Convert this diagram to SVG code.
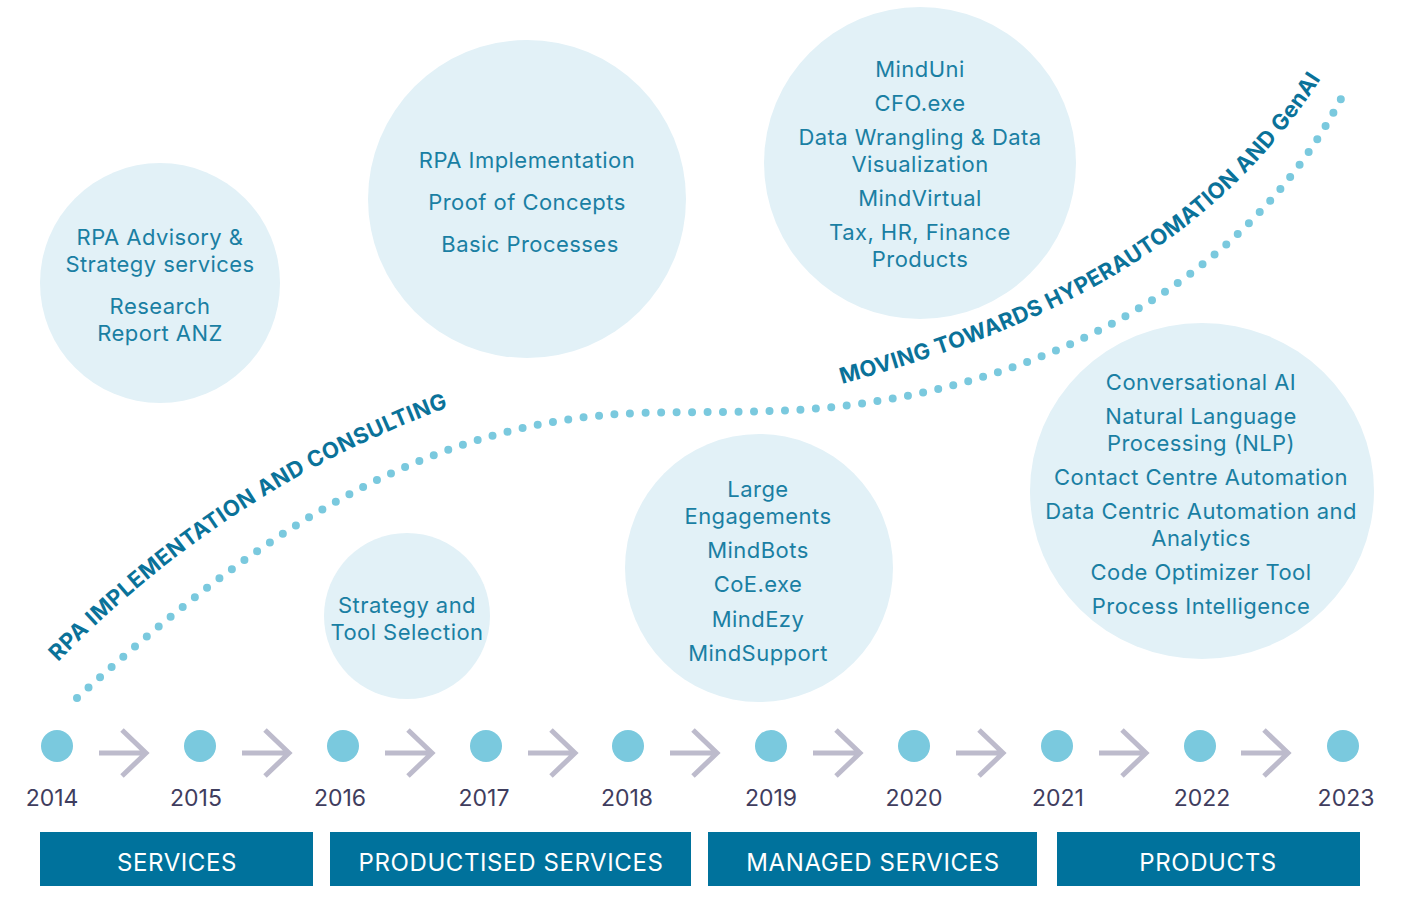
<svg xmlns="http://www.w3.org/2000/svg" width="1413" height="911" viewBox="0 0 1413 911">
<style>
.bub{fill:#e2f1f7}
.t{font-family:Inter,"DejaVu Sans",sans-serif;font-size:22px;fill:#1a7fa3;text-anchor:middle;letter-spacing:0.45px}
.yr{font-family:Inter,"DejaVu Sans",sans-serif;font-size:23px;fill:#3f3d5e;text-anchor:middle}
.dot{fill:#7ac9de}
.arr{fill:none;stroke:#bdbbcc;stroke-width:5}
.box{fill:#00729c}
.bt{font-family:Inter,"DejaVu Sans",sans-serif;font-size:24px;fill:#ffffff;text-anchor:middle;letter-spacing:0.6px}
.ct{font-family:Inter,"DejaVu Sans",sans-serif;font-size:22px;font-weight:bold;fill:#0a7299}
</style>
<defs>
<path id="p1" d="M58,662 Q 232,484 460,403"/>
<path id="p2" d="M842,384 C 1000,340 1200,270 1324,74"/>
</defs>
<rect width="1413" height="911" fill="#ffffff"/>
<g id="curve">
<path d="M77,698 C 250,540 420,420 640,413 C 720,411 780,414 850,405 C 1050,380 1250,280 1345,91" fill="none" stroke="#7ac9de" stroke-width="8" stroke-linecap="round" stroke-dasharray="0 15.5"/>
<text class="ct"><textPath href="#p1" textLength="470" lengthAdjust="spacing">RPA IMPLEMENTATION AND CONSULTING</textPath></text>
<text class="ct"><textPath href="#p2" textLength="582" lengthAdjust="spacing">MOVING TOWARDS HYPERAUTOMATION AND GenAI</textPath></text>
</g>
<g id="n1"><circle class="bub" cx="160" cy="283" r="120"/>
<text class="t" x="160" y="245">RPA Advisory &amp;</text><text class="t" x="160" y="272">Strategy services</text>
<text class="t" x="160" y="314">Research</text><text class="t" x="160" y="341">Report ANZ</text></g>
<g id="n2"><circle class="bub" cx="527" cy="199" r="159"/>
<text class="t" x="527" y="168">RPA Implementation</text><text class="t" x="527" y="210">Proof of Concepts</text><text class="t" x="530" y="252">Basic Processes</text></g>
<g id="n3"><circle class="bub" cx="920" cy="163" r="156"/>
<text class="t" x="920" y="77">MindUni</text><text class="t" x="920" y="111">CFO.exe</text>
<text class="t" x="920" y="145">Data Wrangling &amp; Data</text><text class="t" x="920" y="172">Visualization</text>
<text class="t" x="920" y="206">MindVirtual</text><text class="t" x="920" y="240">Tax, HR, Finance</text><text class="t" x="920" y="267">Products</text></g>
<g id="n4"><circle class="bub" cx="407" cy="616" r="83"/>
<text class="t" x="407" y="613">Strategy and</text><text class="t" x="407" y="640">Tool Selection</text></g>
<g id="n5"><circle class="bub" cx="759" cy="568" r="134"/>
<text class="t" x="758" y="497">Large</text><text class="t" x="758" y="524">Engagements</text>
<text class="t" x="758" y="558">MindBots</text><text class="t" x="758" y="592">CoE.exe</text>
<text class="t" x="758" y="627">MindEzy</text><text class="t" x="758" y="661">MindSupport</text></g>
<g id="n6"><ellipse class="bub" cx="1202" cy="491" rx="172" ry="168"/>
<text class="t" x="1201" y="390">Conversational AI</text><text class="t" x="1201" y="424">Natural Language</text>
<text class="t" x="1201" y="451">Processing (NLP)</text><text class="t" x="1201" y="485">Contact Centre Automation</text>
<text class="t" x="1201" y="519">Data Centric Automation and</text><text class="t" x="1201" y="546">Analytics</text>
<text class="t" x="1201" y="580">Code Optimizer Tool</text><text class="t" x="1201" y="614">Process Intelligence</text></g>
<g id="timeline">
<circle class="dot" cx="57" cy="746" r="16"/><circle class="dot" cx="200" cy="746" r="16"/><circle class="dot" cx="343" cy="746" r="16"/><circle class="dot" cx="486" cy="746" r="16"/><circle class="dot" cx="628" cy="746" r="16"/><circle class="dot" cx="771" cy="746" r="16"/><circle class="dot" cx="914" cy="746" r="16"/><circle class="dot" cx="1057" cy="746" r="16"/><circle class="dot" cx="1200" cy="746" r="16"/><circle class="dot" cx="1343" cy="746" r="16"/>
<text class="yr" x="52" y="806">2014</text><text class="yr" x="196" y="806">2015</text><text class="yr" x="340" y="806">2016</text><text class="yr" x="484" y="806">2017</text><text class="yr" x="627" y="806">2018</text><text class="yr" x="771" y="806">2019</text><text class="yr" x="914" y="806">2020</text><text class="yr" x="1058" y="806">2021</text><text class="yr" x="1202" y="806">2022</text><text class="yr" x="1346" y="806">2023</text>
</g>
<g id="connectors">
<path class="arr" d="M99,753 H146 M122,730 L146,753 L122,776"/>
<path class="arr" d="M242,753 H289 M265,730 L289,753 L265,776"/>
<path class="arr" d="M385,753 H432 M408,730 L432,753 L408,776"/>
<path class="arr" d="M528,753 H575 M551,730 L575,753 L551,776"/>
<path class="arr" d="M670,753 H717 M693,730 L717,753 L693,776"/>
<path class="arr" d="M813,753 H860 M836,730 L860,753 L836,776"/>
<path class="arr" d="M956,753 H1003 M979,730 L1003,753 L979,776"/>
<path class="arr" d="M1099,753 H1146 M1122,730 L1146,753 L1122,776"/>
<path class="arr" d="M1241,753 H1288 M1264,730 L1288,753 L1264,776"/>
</g>
<g id="b1"><rect class="box" x="40" y="832" width="273" height="54"/><text class="bt" x="177" y="871">SERVICES</text></g>
<g id="b2"><rect class="box" x="330" y="832" width="361" height="54"/><text class="bt" x="511" y="871">PRODUCTISED SERVICES</text></g>
<g id="b3"><rect class="box" x="708" y="832" width="329" height="54"/><text class="bt" x="873" y="871">MANAGED SERVICES</text></g>
<g id="b4"><rect class="box" x="1057" y="832" width="303" height="54"/><text class="bt" x="1208" y="871">PRODUCTS</text></g>
</svg>
